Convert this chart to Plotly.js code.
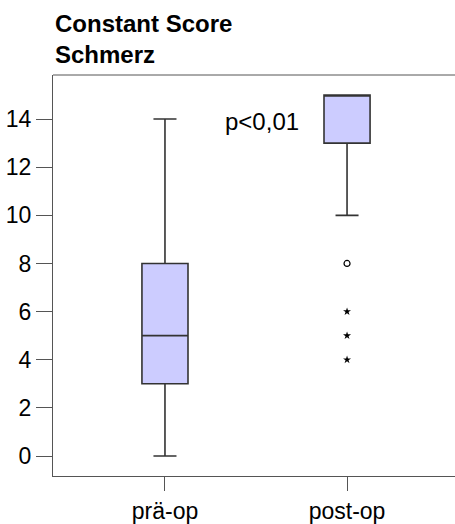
<!DOCTYPE html>
<html><head><meta charset="utf-8">
<script src="https://cdn.plot.ly/plotly-3.0.1.min.js"></script>
<style>body{margin:0;background:#fff}#c{width:455px;height:524px}</style>
</head><body><div id="c"></div>
<script>
const categories = ['prä-op', 'post-op'];
const q1 = [3, 13];
const median = [5, 15];
const q3 = [8, 15];
const lowerWhisker = [0, 10];
const upperWhisker = [14, 15];
const outlierCircleX = ['post-op'];
const outlierCircleY = [8];
const outlierStarX = ['post-op', 'post-op', 'post-op'];
const outlierStarY = [6, 5, 4];
const yTicks = [0, 2, 4, 6, 8, 10, 12, 14];
const pText = 'p<0,01';
const titleText = '<b>Constant Score<br>Schmerz</b>';

const font = 'Liberation Sans, Arial, sans-serif';
const data = [
  {
    type: 'box', x: categories, q1: q1, median: median, q3: q3,
    lowerfence: lowerWhisker, upperfence: upperWhisker,
    fillcolor: '#CCCCFF', line: {color: '#333', width: 1.6},
    width: 0.253, whiskerwidth: 0.5, boxpoints: false, hoverinfo: 'skip', showlegend: false
  },
  {
    type: 'scatter', mode: 'markers', x: outlierCircleX, y: outlierCircleY,
    marker: {symbol: 'circle-open', size: 6, color: '#000', line: {width: 1.2}}, showlegend: false
  },
  {
    type: 'scatter', mode: 'markers', x: outlierStarX, y: outlierStarY,
    marker: {symbol: 'star', size: 6, color: '#000'}, showlegend: false
  }
];
const layout = {
  width: 455, height: 524,
  margin: {l: 53, r: 0, t: 75, b: 48},
  paper_bgcolor: '#fff', plot_bgcolor: '#fff',
  font: {family: font, color: '#000', size: 22},
  xaxis: {
    type: 'category', categoryorder: 'array', categoryarray: categories,
    range: [-0.615, 1.593], showline: true, linecolor: '#555', linewidth: 1,
    ticks: 'outside', ticklen: 14, tickcolor: '#555', showgrid: false, zeroline: false,
    tickfont: {family: font, size: 23, color: '#000'}
  },
  yaxis: {
    range: [-0.83, 15.83], tickvals: yTicks, ticktext: yTicks.map(String),
    showline: true, linecolor: '#555', linewidth: 1,
    ticks: 'outside', ticklen: 16, tickcolor: '#555', showgrid: false, zeroline: false,
    tickfont: {family: font, size: 23, color: '#000'}
  },
  shapes: [
    {type: 'line', xref: 'paper', yref: 'paper', x0: 0, x1: 1, y0: 1, y1: 1, line: {color: '#555', width: 1}}
  ],
  annotations: [
    {text: titleText, x: 0, y: 1 + 67/401, xref: 'paper', yref: 'paper', xanchor: 'left', yanchor: 'top',
     align: 'left', showarrow: false, font: {family: font, size: 24, color: '#000'}},
    {text: pText, x: 0.533, y: 13.9, xref: 'x', yref: 'y', showarrow: false,
     font: {family: font, size: 24, color: '#000'}}
  ]
};
Plotly.newPlot('c', data, layout, {displayModeBar: false, staticPlot: true});
</script></body></html>
